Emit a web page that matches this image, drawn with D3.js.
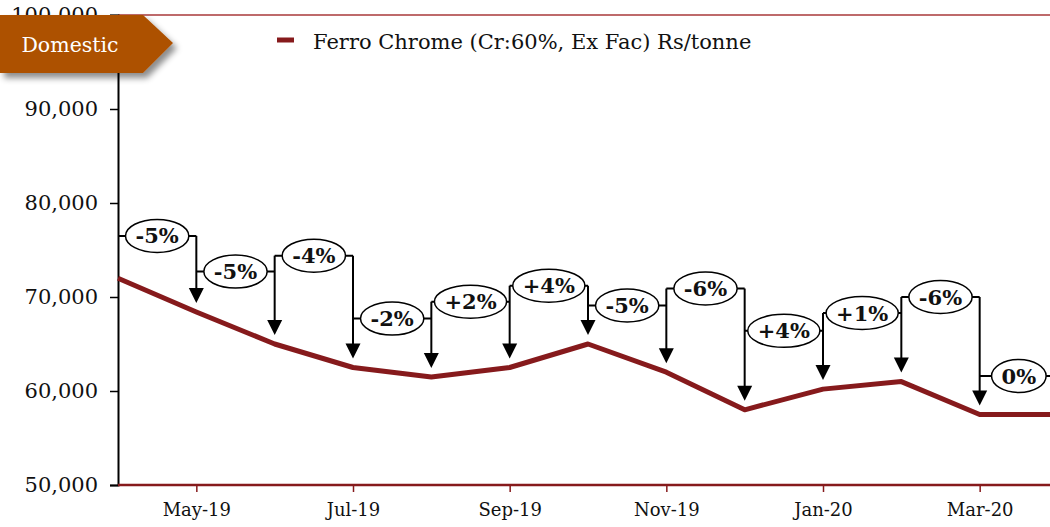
<!DOCTYPE html>
<html lang="en">
<head>
<meta charset="UTF-8">
<title>Ferro Chrome</title>
<script src="https://cdn.jsdelivr.net/npm/d3@7"></script>
<style>
    body { margin: 0; background: #fff; }
    svg { display: block; font-family: "DejaVu Serif", Georgia, serif; }
</style>
</head>
<body>
<svg width="1050" height="527"></svg>
<script>
// data
const months = ["Apr-19", "May-19", "Jun-19", "Jul-19", "Aug-19", "Sep-19", "Oct-19",
                "Nov-19", "Dec-19", "Jan-20", "Feb-20", "Mar-20", "Apr-20"];
const prices = [72000, 68400, 65000, 62500, 61500, 62500, 65000, 62000, 58000, 60200, 61000, 57500, 57500];
const changeLabels = ["-5%", "-5%", "-4%", "-2%", "+2%", "+4%", "-5%", "-6%", "+4%", "+1%", "-6%", "0%"];
// height (Rs/tonne) of each change callout
const labelLevels = [76500, 72700, 74400, 67700, 69500, 71200, 69100, 70900, 66400, 68300, 70000, 61600];
const yTicks = [50000, 60000, 70000, 80000, 90000, 100000];
const xTicks = ["May-19", "Jul-19", "Sep-19", "Nov-19", "Jan-20", "Mar-20"];
const seriesName = "Ferro Chrome (Cr:60%, Ex Fac) Rs/tonne";

const svg = d3.select("svg");
const red = "#861a1c";

const x = d3.scalePoint().domain(months).range([118, 1058]);
const y = d3.scaleLinear().domain([50000, 100000]).range([485, 15]);

// top frame line
svg.append("line")
    .attr("x1", 118).attr("x2", 1050)
    .attr("y1", y(100000)).attr("y2", y(100000))
    .attr("stroke", "#a8383a").attr("stroke-width", 1.5);

// y axis
const yAxis = svg.append("g")
    .attr("transform", "translate(118,0)")
    .call(d3.axisLeft(y).tickValues(yTicks).tickFormat(d3.format(",")).tickSize(8).tickPadding(12));
yAxis.select(".domain").attr("stroke", "#000").attr("stroke-width", 2);
yAxis.selectAll(".tick line").attr("stroke", "#000").attr("stroke-width", 1.5);
yAxis.selectAll("text").attr("font-size", 21).attr("fill", "#111").attr("font-family", "DejaVu Serif");

// x axis
const xAxis = svg.append("g")
    .attr("transform", `translate(0,${y(50000)})`)
    .call(d3.axisBottom(x).tickValues(xTicks).tickSize(7).tickPadding(11));
xAxis.select(".domain").attr("stroke", red).attr("stroke-width", 2.5).attr("d", "M118,0H1058");
xAxis.selectAll(".tick line").attr("stroke", red).attr("stroke-width", 1.5);
xAxis.selectAll("text").attr("font-size", 18).attr("fill", "#111").attr("font-family", "DejaVu Serif");

// price line
svg.append("path")
    .datum(prices)
    .attr("fill", "none")
    .attr("stroke", red)
    .attr("stroke-width", 5)
    .attr("stroke-linejoin", "round")
    .attr("d", d3.line().x((d, i) => x(months[i])).y(d => y(d)));

// change callouts
const ann = svg.append("g");
changeLabels.forEach((lab, k) => {
    const i = k + 1;
    const x0 = x(months[i - 1]), x1 = x(months[i]);
    const ly = y(labelLevels[k]);
    const nextY = k + 1 < labelLevels.length ? y(labelLevels[k + 1]) : ly;
    const top = Math.min(ly, nextY);
    const tip = y(prices[i]) - 9;

    ann.append("line")
        .attr("x1", x0).attr("x2", x1).attr("y1", ly).attr("y2", ly)
        .attr("stroke", "#000").attr("stroke-width", 2);
    ann.append("line")
        .attr("x1", x1).attr("x2", x1).attr("y1", top).attr("y2", tip - 14)
        .attr("stroke", "#000").attr("stroke-width", 2);
    ann.append("path")
        .attr("d", `M${x1 - 7.5},${tip - 15}L${x1 + 7.5},${tip - 15}L${x1},${tip}Z`)
        .attr("fill", "#000");

    const g = ann.append("g").attr("transform", `translate(${(x0 + x1) / 2},${ly})`);
    const el = g.append("ellipse").attr("fill", "#fff").attr("stroke", "#000").attr("stroke-width", 1.5).attr("ry", 16.5);
    const t = g.append("text")
        .attr("text-anchor", "middle").attr("dy", "0.36em")
        .attr("font-size", 21).attr("font-weight", "bold").attr("fill", "#111")
        .text(lab);
    const w = t.node().getComputedTextLength();
    el.attr("rx", w / 2 + 10);
});

// legend
svg.append("line")
    .attr("x1", 277).attr("x2", 294).attr("y1", 40).attr("y2", 40)
    .attr("stroke", red).attr("stroke-width", 5);
svg.append("text")
    .attr("x", 313).attr("y", 49)
    .attr("font-size", 21).attr("fill", "#111")
    .text(seriesName);

// "Domestic" badge
const defs = svg.append("defs");
const f = defs.append("filter").attr("id", "shadow").attr("x", "-20%").attr("y", "-20%").attr("width", "150%").attr("height", "160%");
f.append("feDropShadow").attr("dx", 4).attr("dy", 5).attr("stdDeviation", 3).attr("flood-color", "#000").attr("flood-opacity", 0.45);
svg.append("path")
    .attr("d", "M0,15H143L173,43L143,73H0Z")
    .attr("fill", "#ad5100")
    .attr("filter", "url(#shadow)");
svg.append("text")
    .attr("x", 70).attr("y", 52)
    .attr("text-anchor", "middle")
    .attr("font-size", 20.5).attr("fill", "#fff")
    .text("Domestic");
</script>
</body>
</html>
